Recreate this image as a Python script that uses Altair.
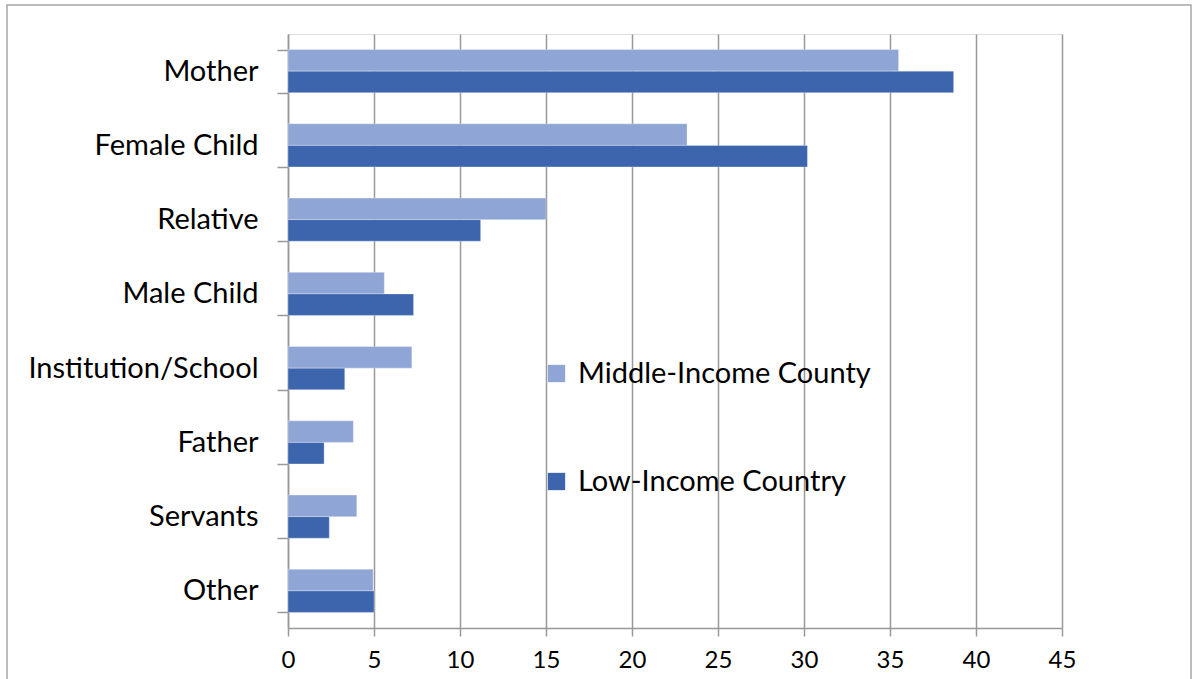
import altair as alt
import pandas as pd

categories = ["Mother", "Female Child", "Relative", "Male Child",
              "Institution/School", "Father", "Servants", "Other"]
middle_income = [35.5, 23.2, 15.0, 5.6, 7.2, 3.8, 4.0, 4.95]
low_income = [38.7, 30.2, 11.2, 7.3, 3.3, 2.1, 2.4, 5.0]
series = ["Middle-Income County", "Low-Income Country"]
colors = ["#8FA5D5", "#3C65AD"]
x_ticks = list(range(0, 50, 5))

rows = []
for c, m, l in zip(categories, middle_income, low_income):
    rows.append({"category": c, "series": series[0], "value": m})
    rows.append({"category": c, "series": series[1], "value": l})
df = pd.DataFrame(rows)

FONT = "Lato"

bars = alt.Chart(df).mark_bar(stroke="white", strokeWidth=0.6, strokeOpacity=0.5).encode(
    y=alt.Y("category:N", sort=categories, title=None,
            scale=alt.Scale(paddingInner=0.42, paddingOuter=0.21),
            axis=alt.Axis(tickBand="extent", tickSize=11, labelPadding=19,
                          labelFontSize=29, labelFont=FONT, labelColor="black",
                          domainColor="#999999", tickColor="#999999",
                          domainWidth=1.5, tickWidth=1.5, grid=False,
                          labelLimit=400)),
    x=alt.X("value:Q", title=None,
            scale=alt.Scale(domain=[0, 45], nice=False),
            axis=alt.Axis(values=x_ticks, tickSize=8, labelPadding=12,
                          labelFlush=False,
                          labelFontSize=24, labelFont=FONT, labelColor="black",
                          domainColor="#999999", tickColor="#999999",
                          domainWidth=1.5, tickWidth=1.5,
                          grid=True, gridColor="#999999", gridWidth=1.5)),
    yOffset=alt.YOffset("series:N", sort=series),
    color=alt.Color("series:N", sort=series,
                    scale=alt.Scale(domain=series, range=colors),
                    legend=alt.Legend(title=None, orient="none",
                                      legendX=254, legendY=325,
                                      symbolType="square", symbolSize=300,
                                      symbolStrokeWidth=0,
                                      labelFontSize=29, labelFont=FONT,
                                      labelColor="black", rowPadding=78,
                                      labelOffset=7, labelLimit=500)),
)

frame = alt.Chart(pd.DataFrame({"a": [0]})).mark_rect(
    fill=None, stroke="#A6A6A6", strokeWidth=1.5
).encode(x=alt.value(-281), x2=alt.value(903), y=alt.value(-29), y2=alt.value(700))

chart = alt.layer(frame, bars).properties(
    width=774, height=594,
    padding={"left": 288, "top": 34, "right": 131, "bottom": 51},
    autosize=alt.AutoSizeParams(type="none"),
).configure_view(stroke=None).configure(background="white")

chart.save("out.html", embed_options={"renderer": "svg", "actions": False})
